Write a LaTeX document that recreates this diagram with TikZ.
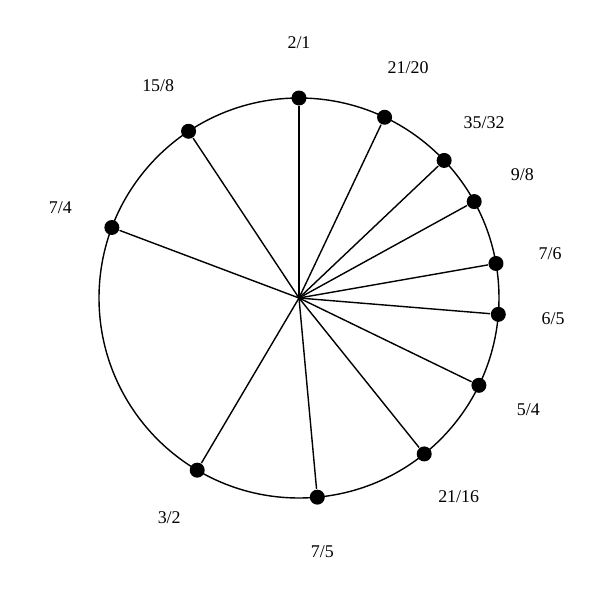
\documentclass[tikz,border=0pt]{standalone}
\usepackage{fontspec}
\setmainfont{Liberation Serif}
\usepackage{amsmath}
\usepackage{amssymb}
\begin{document}
\begin{tikzpicture}[line width=0.8pt,
		dot/.style={circle, fill=black, inner sep=0pt, minimum size=0.3cm},
		lab/.style={font=\fontsize{10.2}{12}\selectfont, inner sep=0pt}]
			\useasboundingbox (-5.98,-6.04) rectangle (6.02,5.96);
			\coordinate (c) at (0,0);
			\draw (c) circle (4cm);
			\node[dot] (d2x1) at (90:4) {};
			\node[dot] (d21x20) at (64.66:4) {};
			\node[dot] (d35x32) at (43.46:4) {};
			\node[dot] (d9x8) at (28.83:4) {};
			\node[dot] (d7x6) at (9.94:4) {};
			\node[dot] (d6x5) at (-4.69:4) {};
			\node[dot] (d5x4) at (-25.89:4) {};
			\node[dot] (d21x16) at (-51.23:4) {};
			\node[dot] (d7x5) at (-84.75:4) {};
			\node[dot] (d3x2) at (-120.59:4) {};
			\node[dot] (d7x4) at (159.35:4) {};
			\node[dot] (d15x8) at (123.52:4) {};
			\node[lab] (l2x1) at (90:5.1) {2/1};
			\node[lab] (l21x20) at (64.66:5.1) {21/20};
			\node[lab] (l35x32) at (43.46:5.1) {35/32};
			\node[lab] (l9x8) at (28.83:5.1) {9/8};
			\node[lab] (l7x6) at (9.94:5.1) {7/6};
			\node[lab] (l6x5) at (-4.69:5.1) {6/5};
			\node[lab] (l5x4) at (-25.89:5.1) {5/4};
			\node[lab] (l21x16) at (-51.23:5.1) {21/16};
			\node[lab] (l7x5) at (-84.75:5.1) {7/5};
			\node[lab] (l3x2) at (-120.59:5.1) {3/2};
			\node[lab] (l7x4) at (159.35:5.1) {7/4};
			\node[lab] (l15x8) at (123.52:5.1) {15/8};
			\draw (c) -- (d2x1);
			\draw (c) -- (d21x20);
			\draw (c) -- (d35x32);
			\draw (c) -- (d9x8);
			\draw (c) -- (d7x6);
			\draw (c) -- (d6x5);
			\draw (c) -- (d5x4);
			\draw (c) -- (d21x16);
			\draw (c) -- (d7x5);
			\draw (c) -- (d3x2);
			\draw (c) -- (d7x4);
			\draw (c) -- (d15x8);
			\end{tikzpicture}
\end{document}
